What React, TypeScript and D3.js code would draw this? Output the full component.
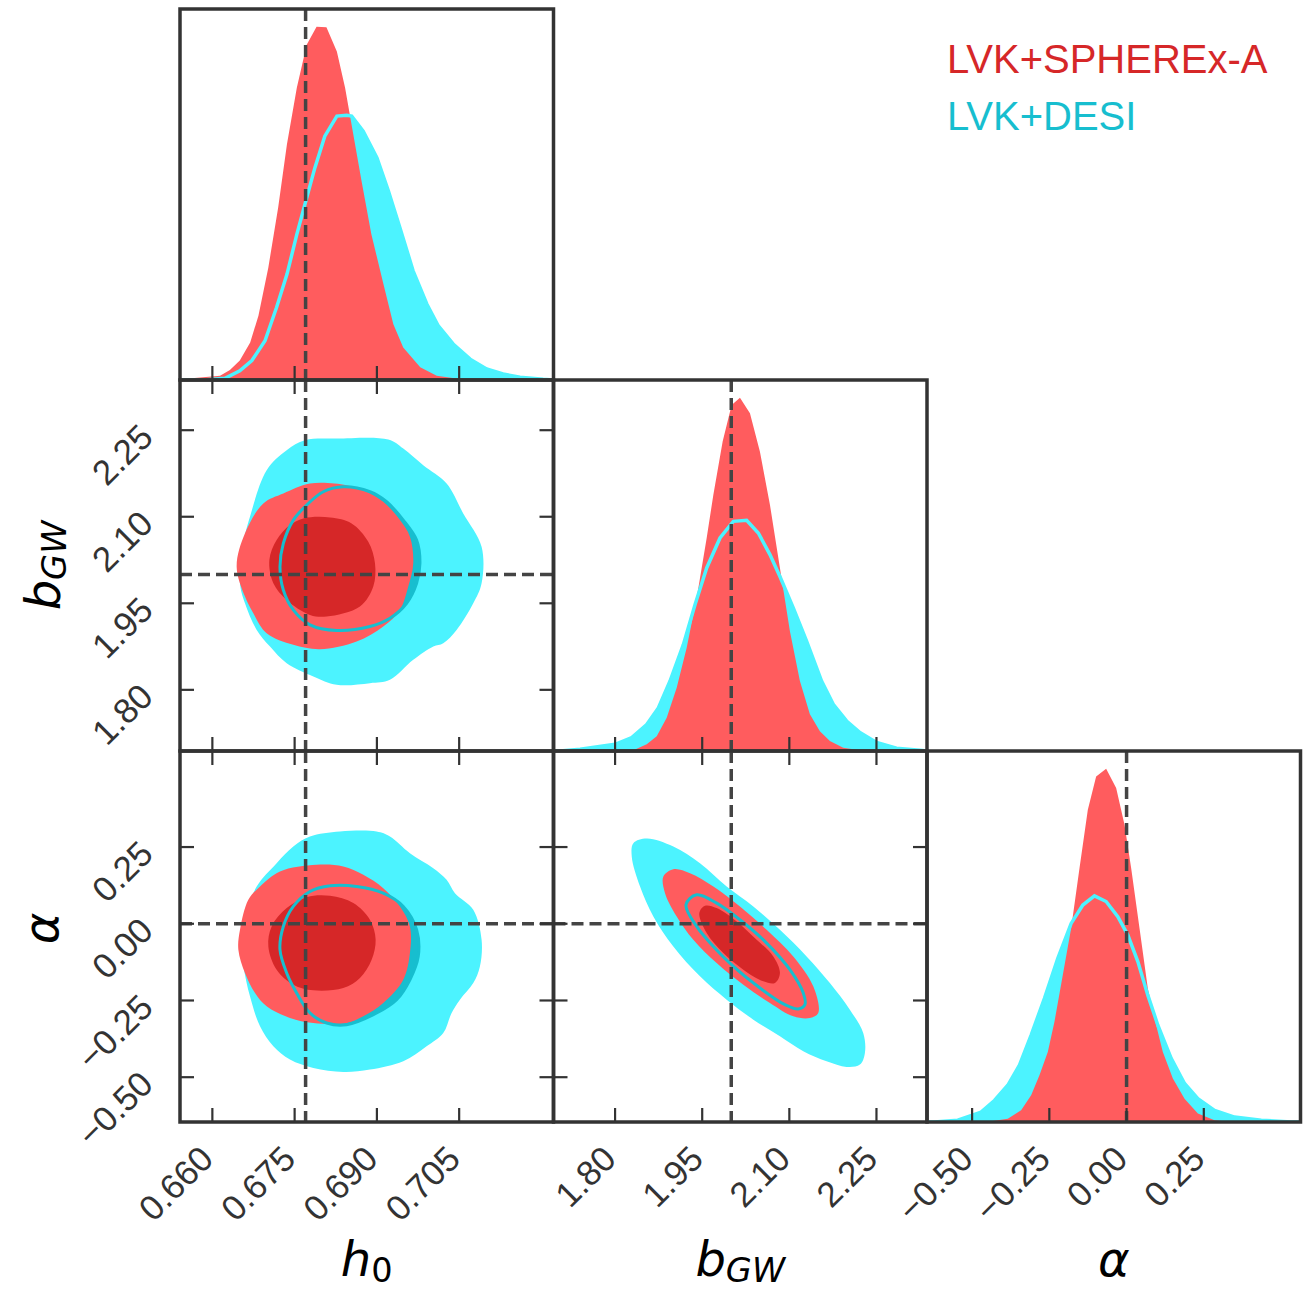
import React from "react";
import * as d3 from "d3";

// ---------- axis definitions ----------
const paramNames = ["h0", "bGW", "alpha"];
const h0Domain: [number, number] = [0.6541, 0.7222];
const bDomain: [number, number] = [1.694, 2.337];
const aDomain: [number, number] = [-0.646, 0.563];
const h0Ticks = [0.66, 0.675, 0.69, 0.705];
const bTicks = [1.8, 1.95, 2.1, 2.25];
const aTicks = [-0.5, -0.25, 0, 0.25];
const truths = [0.677, 2.0, 0.0];
const legendLabels = ["LVK+SPHEREx-A", "LVK+DESI"];

// ---------- 1D marginals (x, relative density) ----------
const h0Red: [number, number][] = [[0.6541,0],[0.6547,0.003],[0.6614,0.012],[0.6632,0.028],[0.665,0.055],[0.6669,0.106],[0.6684,0.182],[0.6702,0.318],[0.672,0.488],[0.6736,0.667],[0.6754,0.827],[0.6772,0.949],[0.679,1.0],[0.6808,0.998],[0.6827,0.93],[0.6842,0.827],[0.6857,0.695],[0.6872,0.563],[0.689,0.412],[0.6912,0.271],[0.693,0.158],[0.6948,0.092],[0.6979,0.036],[0.7009,0.012],[0.7051,0.003],[0.7215,0],[0.7222,0]];
const h0Cyan: [number, number][] = [[0.6541,0],[0.6584,0],[0.6623,0.005],[0.665,0.026],[0.6672,0.055],[0.6696,0.111],[0.6717,0.205],[0.6736,0.299],[0.6754,0.412],[0.6772,0.516],[0.6787,0.601],[0.6805,0.69],[0.6827,0.747],[0.6845,0.749],[0.6854,0.747],[0.6875,0.704],[0.69,0.629],[0.6921,0.535],[0.6942,0.431],[0.6966,0.309],[0.6991,0.215],[0.7012,0.153],[0.7039,0.102],[0.707,0.059],[0.71,0.031],[0.713,0.017],[0.7161,0.008],[0.7203,0.002],[0.7222,0]];
const bRed: [number, number][] = [[1.694,0],[1.8315,0.002],[1.8545,0.019],[1.8717,0.042],[1.8889,0.094],[1.9061,0.179],[1.9233,0.292],[1.9405,0.433],[1.9577,0.603],[1.9692,0.725],[1.9852,0.876],[2.0007,0.979],[2.015,1.0],[2.0322,0.956],[2.0494,0.847],[2.0666,0.697],[2.0838,0.518],[2.101,0.339],[2.1182,0.198],[2.1354,0.104],[2.1526,0.056],[2.1698,0.028],[2.1928,0.009],[2.2214,0.002],[2.337,0]];
const bCyan: [number, number][] = [[1.694,0],[1.7054,0],[1.7398,0.005],[1.8,0.019],[1.8287,0.038],[1.8545,0.075],[1.8745,0.122],[1.8946,0.198],[1.9175,0.301],[1.9376,0.414],[1.9577,0.518],[1.9806,0.603],[2.0036,0.65],[2.0265,0.653],[2.0466,0.617],[2.0666,0.556],[2.0838,0.494],[2.1068,0.405],[2.1297,0.311],[2.1555,0.198],[2.1756,0.132],[2.1985,0.085],[2.2215,0.052],[2.2501,0.024],[2.2845,0.008],[2.3247,0.002],[2.337,0]];
const aRed: [number, number][] = [[-0.646,0],[-0.4547,0],[-0.3845,0.009],[-0.3413,0.033],[-0.3089,0.076],[-0.282,0.132],[-0.255,0.198],[-0.2334,0.284],[-0.2064,0.416],[-0.1794,0.548],[-0.1524,0.718],[-0.1254,0.884],[-0.0985,0.978],[-0.0661,1.0],[-0.0337,0.945],[-0.0067,0.841],[0.0149,0.718],[0.0419,0.548],[0.0688,0.378],[0.0904,0.293],[0.1174,0.198],[0.1498,0.123],[0.1876,0.066],[0.2308,0.024],[0.2847,0.005],[0.3387,0],[0.563,0]];
const aCyan: [number, number][] = [[-0.646,0],[-0.622,0],[-0.5464,0.005],[-0.4709,0.028],[-0.4277,0.061],[-0.3845,0.104],[-0.3467,0.161],[-0.3089,0.246],[-0.2658,0.35],[-0.2226,0.463],[-0.1794,0.562],[-0.1416,0.614],[-0.1039,0.64],[-0.0661,0.624],[-0.0283,0.581],[0.0041,0.529],[0.0365,0.454],[0.0688,0.359],[0.1012,0.274],[0.1444,0.18],[0.1876,0.109],[0.2308,0.066],[0.2847,0.033],[0.3495,0.014],[0.4359,0.005],[0.533,0],[0.563,0]];

// ---------- 2D contours (x, y) ----------
const h0bCyan2: [number, number][] = [[0.67689,2.2326],[0.68266,2.2355],[0.69208,2.2338],[0.69481,2.2182],[0.69845,2.1894],[0.70271,2.1577],[0.70574,2.1058],[0.70909,2.0481],[0.70909,1.9847],[0.70757,1.9501],[0.70453,1.9039],[0.7021,1.8809],[0.70028,1.8751],[0.69663,1.852],[0.69238,1.8174],[0.68873,1.8116],[0.68266,1.8088],[0.67841,1.8232],[0.67355,1.8462],[0.67051,1.8751],[0.66808,1.9039],[0.66595,1.9501],[0.66504,1.9847],[0.66565,2.0539],[0.66686,2.1],[0.6699,2.1807],[0.67355,2.2153]];
const h0bCyan1: [number, number][] = [[0.67719,2.1202],[0.68023,2.1433],[0.68387,2.1519],[0.68873,2.1433],[0.69177,2.126],[0.69481,2.0942],[0.69724,2.0596],[0.69785,2.0193],[0.69724,1.9847],[0.69542,1.9501],[0.69238,1.9241],[0.68873,1.9097],[0.68266,1.9028],[0.6778,1.9126],[0.67476,1.9385],[0.67294,1.9731],[0.67233,2.0135],[0.67294,2.0539],[0.67476,2.0942]];
const h0bRed2: [number, number][] = [[0.6778,2.1577],[0.68448,2.1548],[0.68752,2.1461],[0.69116,2.126],[0.6942,2.0942],[0.69602,2.0654],[0.69663,2.0193],[0.69572,1.9789],[0.6942,1.9385],[0.69116,1.9097],[0.6863,1.8837],[0.67962,1.8705],[0.67476,1.878],[0.6699,1.8982],[0.66747,1.9328],[0.66595,1.9616],[0.66443,2.0135],[0.66595,2.0712],[0.66929,2.1231],[0.67294,2.1404]];
const h0bRed1: [number, number][] = [[0.67658,2.0971],[0.68145,2.0988],[0.68539,2.0885],[0.68843,2.0567],[0.68965,2.0193],[0.68934,1.9789],[0.68691,1.9443],[0.68084,1.927],[0.6778,1.9299],[0.67355,1.9558],[0.67112,1.9847],[0.67039,2.025],[0.67172,2.0596],[0.67415,2.0856]];

const h0aCyan2: [number, number][] = [[0.6778,0.2843],[0.68327,0.3006],[0.68995,0.3006],[0.69238,0.2843],[0.69602,0.23],[0.70028,0.1812],[0.70271,0.1432],[0.70423,0.0998],[0.70757,0.0456],[0.70909,-0.0521],[0.70878,-0.1389],[0.70757,-0.1931],[0.70514,-0.2474],[0.70362,-0.2908],[0.7021,-0.3559],[0.69906,-0.3993],[0.69481,-0.4481],[0.68873,-0.4753],[0.68387,-0.4829],[0.67841,-0.4698],[0.67415,-0.4427],[0.67112,-0.3993],[0.66869,-0.3342],[0.66686,-0.2366],[0.66565,-0.1389],[0.66504,-0.0738],[0.66626,0.0347],[0.66808,0.1215],[0.67172,0.1975],[0.67476,0.2517]];
const h0aCyan1: [number, number][] = [[0.6778,0.1053],[0.68145,0.1237],[0.6863,0.1215],[0.69116,0.0998],[0.69481,0.0564],[0.69724,-0.0195],[0.69754,-0.1063],[0.69602,-0.1823],[0.69359,-0.2474],[0.68995,-0.2908],[0.68448,-0.3288],[0.68084,-0.3234],[0.6778,-0.2908],[0.67537,-0.2257],[0.67355,-0.1606],[0.67233,-0.0846],[0.67294,-0.0087],[0.67476,0.0564]];
const h0aRed2: [number, number][] = [[0.67901,0.1921],[0.68387,0.1866],[0.68752,0.1595],[0.69116,0.1161],[0.6942,0.0564],[0.69602,-0.0087],[0.69602,-0.0955],[0.69481,-0.1823],[0.69116,-0.2583],[0.68752,-0.3017],[0.68448,-0.3234],[0.67841,-0.3234],[0.67415,-0.3071],[0.6699,-0.2691],[0.66778,-0.2257],[0.66595,-0.1606],[0.66474,-0.0846],[0.66504,-0.0195],[0.66656,0.0781],[0.66869,0.1215],[0.67233,0.1704]];
const h0aRed1: [number, number][] = [[0.67719,0.0868],[0.68145,0.0911],[0.6857,0.0673],[0.68873,0.013],[0.68977,-0.0521],[0.68904,-0.1172],[0.68691,-0.1769],[0.68387,-0.2094],[0.67841,-0.217],[0.67476,-0.1986],[0.67172,-0.1497],[0.67021,-0.0738],[0.67081,-0.0087],[0.67355,0.051]];

const baCyan2: [number, number][] = [[1.8315,0.2626],[1.8545,0.2778],[1.9003,0.2517],[1.9462,0.1975],[1.9921,0.1215],[2.038,0.0564],[2.0838,-0.0195],[2.1297,-0.1063],[2.1698,-0.1931],[2.2042,-0.28],[2.2272,-0.3559],[2.2301,-0.421],[2.2215,-0.459],[2.1985,-0.4666],[2.1641,-0.4482],[2.124,-0.4156],[2.0838,-0.3668],[2.038,-0.3125],[1.9921,-0.2474],[1.9462,-0.1714],[1.9003,-0.0738],[1.8659,0.0239],[1.843,0.1215],[1.8287,0.2192]];
const baCyan1: [number, number][] = [[1.9405,0.0944],[1.9749,0.0673],[2.015,0.013],[2.0609,-0.0629],[2.101,-0.1497],[2.124,-0.2257],[2.1268,-0.2637],[2.1154,-0.2778],[2.0924,-0.2637],[2.0494,-0.2094],[2.0036,-0.1389],[1.9692,-0.0738],[1.9405,-0.0087],[1.9221,0.0619]];
const baRed2: [number, number][] = [[1.9003,0.178],[1.929,0.1649],[1.9692,0.1215],[2.015,0.0564],[2.0609,-0.0195],[2.1068,-0.1063],[2.1412,-0.204],[2.1498,-0.2908],[2.1354,-0.3071],[2.1068,-0.3017],[2.0666,-0.2583],[2.0208,-0.1986],[1.9749,-0.128],[1.9347,-0.0521],[1.9061,0.0239],[1.886,0.0998],[1.8831,0.1541]];
const baRed1: [number, number][] = [[1.9548,0.0586],[1.9749,0.051],[2.0093,0.0076],[2.0437,-0.0521],[2.0724,-0.1063],[2.0838,-0.1606],[2.0752,-0.1931],[2.0552,-0.1877],[2.0208,-0.1497],[1.9864,-0.0955],[1.9577,-0.0304],[1.9451,0.0347]];

// ---------- styling ----------
const RED_LIGHT = "#FF5C5E";
const RED_DARK = "#D62728";
const CYAN_LIGHT = "#4CF3FF";
const CYAN_DARK = "#17BECF";
const FRAME = "#333333";
const DASH = "#444444";

const X_EDGES = [180, 553.5, 927, 1300.5];
const Y_EDGES = [9, 380, 751, 1122];
const TICK_LEN = 14;
const FONT = "'Liberation Sans', Arial, Helvetica, sans-serif";
const MATH_FONT = "'DejaVu Sans', sans-serif";
const TICK_FONT = 35;

const domains = [h0Domain, bDomain, aDomain];
const tickSets = [h0Ticks, bTicks, aTicks];
const fmts = [d3.format(".3f"), d3.format(".2f"), d3.format(".2f")];
const diagData = [
  { red: h0Red, cyan: h0Cyan },
  { red: bRed, cyan: bCyan },
  { red: aRed, cyan: aCyan },
];
const offDiag: Record<string, { c2: [number, number][]; c1: [number, number][]; r2: [number, number][]; r1: [number, number][] }> = {
  "1-0": { c2: h0bCyan2, c1: h0bCyan1, r2: h0bRed2, r1: h0bRed1 },
  "2-0": { c2: h0aCyan2, c1: h0aCyan1, r2: h0aRed2, r1: h0aRed1 },
  "2-1": { c2: baCyan2, c1: baCyan1, r2: baRed2, r1: baRed1 },
};

function xScale(i: number) {
  return d3.scaleLinear().domain(domains[i]).range([X_EDGES[i], X_EDGES[i + 1]]);
}
function yScale(i: number) {
  return d3.scaleLinear().domain(domains[i]).range([Y_EDGES[i + 1], Y_EDGES[i]]);
}

function Label({ x, y, main, sub, rotate, size }: { x: number; y: number; main: string; sub?: string; rotate?: boolean; size: number }) {
  return (
    <text
      x={x}
      y={y}
      textAnchor="middle"
      fontFamily={MATH_FONT}
      fontStyle="italic"
      fontSize={size}
      fill="#000"
      transform={rotate ? `rotate(-90, ${x}, ${y})` : undefined}
    >
      {main}
      {sub ? (
        <tspan fontSize={size * 0.7} dy={size * 0.12} fontStyle={sub === "0" ? "normal" : "italic"}>
          {sub}
        </tspan>
      ) : null}
    </text>
  );
}

export default function App() {
  const W = 1307;
  const H = 1291;
  const panels: React.ReactNode[] = [];
  const dashProps = { stroke: DASH, strokeWidth: 3.5, strokeDasharray: "12 6" };

  for (let r = 0; r < 3; r++) {
    for (let c = 0; c <= r; c++) {
      const x0 = X_EDGES[c], x1 = X_EDGES[c + 1];
      const y0 = Y_EDGES[r], y1 = Y_EDGES[r + 1];
      const xs = xScale(c);
      const clipId = `clip-${r}-${c}`;
      const content: React.ReactNode[] = [];
      const ticks: React.ReactNode[] = [];

      if (r === c) {
        const ys = d3.scaleLinear().domain([0, 1.05]).range([y1, y0]);
        const area = d3.area<[number, number]>().x((d) => xs(d[0])).y0(ys(0)).y1((d) => ys(d[1]));
        const line = d3.line<[number, number]>().x((d) => xs(d[0])).y((d) => ys(d[1]));
        const dd = diagData[c];
        content.push(<path key="ca" d={area(dd.cyan) || ""} fill={CYAN_LIGHT} />);
        content.push(<path key="ra" d={area(dd.red) || ""} fill={RED_LIGHT} />);
        content.push(<path key="cl" d={line(dd.cyan) || ""} fill="none" stroke={CYAN_LIGHT} strokeWidth={3.5} />);
        content.push(<line key="tv" x1={xs(truths[c])} x2={xs(truths[c])} y1={y0} y2={y1} {...dashProps} />);
        tickSets[c].forEach((t, k) =>
          ticks.push(<line key={`b${k}`} x1={xs(t)} x2={xs(t)} y1={y1} y2={y1 - TICK_LEN} stroke={FRAME} strokeWidth={2.2} />)
        );
      } else {
        const ys = yScale(r);
        const closed = d3
          .line<[number, number]>()
          .x((d) => xs(d[0]))
          .y((d) => ys(d[1]))
          .curve(d3.curveCatmullRomClosed.alpha(0.5));
        const od = offDiag[`${r}-${c}`];
        content.push(<path key="c2" d={closed(od.c2) || ""} fill={CYAN_LIGHT} />);
        content.push(<path key="c1f" d={closed(od.c1) || ""} fill={CYAN_DARK} />);
        content.push(<path key="r2" d={closed(od.r2) || ""} fill={RED_LIGHT} />);
        content.push(<path key="r1" d={closed(od.r1) || ""} fill={RED_DARK} />);
        content.push(<path key="c1l" d={closed(od.c1) || ""} fill="none" stroke={CYAN_DARK} strokeWidth={3} />);
        content.push(<line key="tv" x1={xs(truths[c])} x2={xs(truths[c])} y1={y0} y2={y1} {...dashProps} />);
        content.push(<line key="th" x1={x0} x2={x1} y1={ys(truths[r])} y2={ys(truths[r])} {...dashProps} />);
        tickSets[c].forEach((t, k) => {
          ticks.push(<line key={`b${k}`} x1={xs(t)} x2={xs(t)} y1={y1} y2={y1 - TICK_LEN} stroke={FRAME} strokeWidth={2.2} />);
          ticks.push(<line key={`t${k}`} x1={xs(t)} x2={xs(t)} y1={y0} y2={y0 + TICK_LEN} stroke={FRAME} strokeWidth={2.2} />);
        });
        tickSets[r].forEach((t, k) => {
          ticks.push(<line key={`l${k}`} x1={x0} x2={x0 + TICK_LEN} y1={ys(t)} y2={ys(t)} stroke={FRAME} strokeWidth={2.2} />);
          ticks.push(<line key={`r${k}`} x1={x1} x2={x1 - TICK_LEN} y1={ys(t)} y2={ys(t)} stroke={FRAME} strokeWidth={2.2} />);
        });
      }

      panels.push(
        <g key={`p-${r}-${c}`}>
          <defs>
            <clipPath id={clipId}>
              <rect x={x0} y={y0} width={x1 - x0} height={y1 - y0} />
            </clipPath>
          </defs>
          <g clipPath={`url(#${clipId})`}>{content}</g>
          {ticks}
          <rect x={x0} y={y0} width={x1 - x0} height={y1 - y0} fill="none" stroke={FRAME} strokeWidth={3.5} />
        </g>
      );
    }
  }

  // tick labels
  const tickLabels: React.ReactNode[] = [];
  for (let c = 0; c < 3; c++) {
    const xs = xScale(c);
    tickSets[c].forEach((t, k) => {
      const ex = xs(t) + 3;
      const ey = 1161;
      tickLabels.push(
        <text key={`xl-${c}-${k}`} x={ex} y={ey} textAnchor="end" fontFamily={FONT} fontSize={TICK_FONT} fill="#333"
          transform={`rotate(-45, ${ex}, ${ey})`}>
          {fmts[c](t)}
        </text>
      );
    });
  }
  for (let r = 1; r < 3; r++) {
    const ys = yScale(r);
    tickSets[r].forEach((t, k) => {
      const ex = 155;
      const ey = ys(t) + 9;
      tickLabels.push(
        <text key={`yl-${r}-${k}`} x={ex} y={ey} textAnchor="end" fontFamily={FONT} fontSize={TICK_FONT} fill="#333"
          transform={`rotate(-45, ${ex}, ${ey})`}>
          {fmts[r](t)}
        </text>
      );
    });
  }

  const xc = (i: number) => (X_EDGES[i] + X_EDGES[i + 1]) / 2;
  const yc = (i: number) => (Y_EDGES[i] + Y_EDGES[i + 1]) / 2;

  return (
    <svg width={W} height={H} viewBox={`0 0 ${W} ${H}`} style={{ position: "absolute", left: 0, top: 0, background: "#fff" }}
      data-params={paramNames.join(",")}>
      <rect x={0} y={0} width={W} height={H} fill="#fff" />
      {panels}
      {tickLabels}
      <Label x={xc(0)} y={1276} main="h" sub="0" size={48} />
      <Label x={xc(1)} y={1276} main="b" sub="GW" size={48} />
      <Label x={xc(2)} y={1276} main="α" size={48} />
      <Label x={60} y={yc(1)} main="b" sub="GW" size={48} rotate />
      <Label x={58} y={yc(2) - 8} main="α" size={48} rotate />
      <text x={947} y={73} fontFamily={FONT} fontSize={40} fill={RED_DARK}>{legendLabels[0]}</text>
      <text x={947} y={130} fontFamily={FONT} fontSize={40} fill={CYAN_DARK}>{legendLabels[1]}</text>
    </svg>
  );
}
